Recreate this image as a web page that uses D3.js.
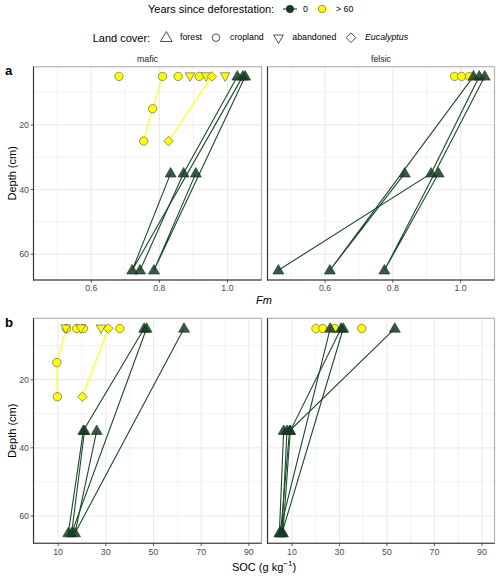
<!DOCTYPE html>
<html>
<head>
<meta charset="utf-8">
<script src="https://cdn.jsdelivr.net/npm/d3@7/dist/d3.min.js"></script>
<style>
body { margin: 0; background: #fff; }
text { font-family: "Liberation Sans", Arial, sans-serif; }
</style>
</head>
<body>
<script>
// ---- data ----
const lithologies = ['mafic', 'felsic']
const ageGroups = ['0', '> 60']
const landCovers = ['forest', 'cropland', 'abandoned', 'Eucalyptus']

const fmTicks = [0.6, 0.8, 1.0]
const fmMinor = [0.5, 0.7, 0.9]
const socTicks = [10, 30, 50, 70, 90]
const socMinor = [0, 20, 40, 60, 80]
const depthTicks = [20, 40, 60]
const depthMinor = [10, 30, 50]

// each profile: points joined in the order given
const fmMafic = [
	{cover: 'cropland', age: '> 60', depth: [5, 15, 25], val: [0.809, 0.780, 0.754]},
	{cover: 'cropland', age: '> 60', depth: [5], val: [0.681]},
	{cover: 'cropland', age: '> 60', depth: [5], val: [0.855]},
	{cover: 'cropland', age: '> 60', depth: [5], val: [0.917]},
	{cover: 'abandoned', age: '> 60', depth: [5], val: [0.890]},
	{cover: 'abandoned', age: '> 60', depth: [5], val: [0.937]},
	{cover: 'abandoned', age: '> 60', depth: [5], val: [0.993]},
	{cover: 'Eucalyptus', age: '> 60', depth: [5, 25], val: [0.954, 0.827]},
	{cover: 'forest', age: '0', depth: [5, 35, 65], val: [1.029, 0.871, 0.743]},
	{cover: 'forest', age: '0', depth: [5, 65, 35], val: [1.045, 0.720, 0.833]},
	{cover: 'forest', age: '0', depth: [5, 65, 35], val: [1.052, 0.784, 0.907]}
]
const fmFelsic = [
	{cover: 'cropland', age: '> 60', depth: [5], val: [0.982]},
	{cover: 'cropland', age: '> 60', depth: [5], val: [1.003]},
	{cover: 'cropland', age: '> 60', depth: [5], val: [1.026]},
	{cover: 'forest', age: '0', depth: [5, 65, 35], val: [1.038, 0.614, 0.835]},
	{cover: 'forest', age: '0', depth: [5, 35, 65], val: [1.055, 0.913, 0.462]},
	{cover: 'forest', age: '0', depth: [5, 65, 35], val: [1.071, 0.775, 0.935]}
]
const socMafic = [
	{cover: 'cropland', age: '> 60', depth: [5, 15, 25], val: [13.5, 9.5, 9.7]},
	{cover: 'cropland', age: '> 60', depth: [5], val: [17.8]},
	{cover: 'cropland', age: '> 60', depth: [5], val: [20.6]},
	{cover: 'cropland', age: '> 60', depth: [5], val: [35.9]},
	{cover: 'abandoned', age: '> 60', depth: [5], val: [13.2]},
	{cover: 'abandoned', age: '> 60', depth: [5], val: [19.5]},
	{cover: 'abandoned', age: '> 60', depth: [5], val: [28.0]},
	{cover: 'Eucalyptus', age: '> 60', depth: [5, 25], val: [31.1, 20.2]},
	{cover: 'forest', age: '0', depth: [5, 35, 65], val: [46.1, 20.6, 14.3]},
	{cover: 'forest', age: '0', depth: [5, 65, 35], val: [47.1, 15.7, 21.1]},
	{cover: 'forest', age: '0', depth: [5, 65, 35], val: [62.8, 17.1, 26.2]}
]
const socFelsic = [
	{cover: 'cropland', age: '> 60', depth: [5], val: [20.1]},
	{cover: 'cropland', age: '> 60', depth: [5], val: [23.0]},
	{cover: 'cropland', age: '> 60', depth: [5], val: [27.9]},
	{cover: 'cropland', age: '> 60', depth: [5], val: [39.4]},
	{cover: 'forest', age: '0', depth: [5, 65, 35], val: [26.1, 4.7, 6.5]},
	{cover: 'forest', age: '0', depth: [5, 35, 65], val: [30.7, 9.3, 6.2]},
	{cover: 'forest', age: '0', depth: [5, 65, 35], val: [31.6, 5.8, 7.9]},
	{cover: 'forest', age: '0', depth: [5, 35, 65], val: [53.3, 9.0, 5.2]}
]

// ---- layout ----
const W = 500, H = 578
const green = '#133f20', greenLine = '#1a4a28', yellow = '#ffff00'
const ageFill = d3.scaleOrdinal().domain(ageGroups).range([green, yellow])
const ageLine = d3.scaleOrdinal().domain(ageGroups).range([greenLine, yellow])

const svg = d3.select('body').append('svg')
	.attr('width', W)
	.attr('height', H)

svg.append('rect').attr('width', W).attr('height', H).attr('fill', '#fff')

// shapes like ggplot pch 24 / 21 / 25 / 23
function shapePath(cover, k = 1) {
	if (cover == 'forest') return 'M0,' + (-5.8*k) + 'L' + (5.5*k) + ',' + (3.7*k) + 'L' + (-5.5*k) + ',' + (3.7*k) + 'Z'
	if (cover == 'abandoned') return 'M' + (-4.8*k) + ',' + (-3.6*k) + 'L' + (4.8*k) + ',' + (-3.6*k) + 'L0,' + (5*k) + 'Z'
	if (cover == 'Eucalyptus') return 'M0,' + (-4.8*k) + 'L' + (4.8*k) + ',0L0,' + (4.8*k) + 'L' + (-4.8*k) + ',0Z'
	let r = 4.2*k
	return 'M' + r + ',0A' + r + ',' + r + ' 0 1,1 ' + (-r) + ',0A' + r + ',' + r + ' 0 1,1 ' + r + ',0Z'
}

const cols = [
	{lith: 'mafic', x0: 33.5, x1: 261.5},
	{lith: 'felsic', x0: 267.5, x1: 494.5}
]
const rows = [
	{tag: 'a', top: 66.7, bottom: 280, domain: [0.43, 1.10], ticks: fmTicks, minor: fmMinor,
		fmt: d3.format('.1f'), data: {mafic: fmMafic, felsic: fmFelsic}},
	{tag: 'b', top: 318.3, bottom: 543.3, domain: [-0.3, 95.3], ticks: socTicks, minor: socMinor,
		fmt: d3.format('d'), data: {mafic: socMafic, felsic: socFelsic}}
]

rows.forEach((row, ri) => {
	let y = d3.scaleLinear().domain([2, 68]).range([row.top, row.bottom])

	cols.forEach((col, ci) => {
		let x = d3.scaleLinear().domain(row.domain).range([col.x0, col.x1])
		let g = svg.append('g')

		// grid
		g.selectAll('.vmin').data(row.minor.filter(v => x(v) > col.x0 && x(v) < col.x1)).enter().append('line')
			.attr('x1', d => x(d)).attr('x2', d => x(d)).attr('y1', row.top).attr('y2', row.bottom)
			.style('stroke', '#ebebeb').style('stroke-width', 0.6)
		g.selectAll('.hmin').data(depthMinor).enter().append('line')
			.attr('x1', col.x0).attr('x2', col.x1).attr('y1', d => y(d)).attr('y2', d => y(d))
			.style('stroke', '#ebebeb').style('stroke-width', 0.6)
		g.selectAll('.vmaj').data(row.ticks).enter().append('line')
			.attr('x1', d => x(d)).attr('x2', d => x(d)).attr('y1', row.top).attr('y2', row.bottom)
			.style('stroke', '#ebebeb').style('stroke-width', 1.1)
		g.selectAll('.hmaj').data(depthTicks).enter().append('line')
			.attr('x1', col.x0).attr('x2', col.x1).attr('y1', d => y(d)).attr('y2', d => y(d))
			.style('stroke', '#ebebeb').style('stroke-width', 1.1)

		let profiles = row.data[col.lith]
		let line = d3.line().x(d => x(d[1])).y(d => y(d[0]))

		// lines
		g.selectAll('.prof').data(profiles.filter(p => p.depth.length > 1)).enter().append('path')
			.attr('d', p => line(p.depth.map((dd, i) => [dd, p.val[i]])))
			.attr('fill', 'none')
			.style('stroke', p => ageLine(p.age))
			.style('stroke-width', 1.1)

		// points: yellow first, green on top
		let pts = []
		ageGroups.slice().reverse().forEach(a => {
			profiles.filter(p => p.age == a).forEach(p => {
				p.depth.forEach((dd, i) => pts.push({cover: p.cover, age: p.age, depth: dd, val: p.val[i]}))
			})
		})
		g.selectAll('.pt').data(pts).enter().append('path')
			.attr('transform', d => 'translate(' + x(d.val) + ',' + y(d.depth) + ')')
			.attr('d', d => shapePath(d.cover))
			.attr('fill', d => ageFill(d.age))
			.attr('fill-opacity', d => d.age == '0' ? 0.85 : 1)
			.style('stroke', d => d.age == '0' ? '#1c2a1f' : '#4d4d4d')
			.style('stroke-width', 0.6)

		// panel border and axis lines
		g.append('rect')
			.attr('x', col.x0).attr('y', row.top)
			.attr('width', col.x1 - col.x0).attr('height', row.bottom - row.top)
			.attr('fill', 'none').style('stroke', '#b3b3b3').style('stroke-width', 1.2)
		g.append('line').attr('x1', col.x0).attr('x2', col.x0).attr('y1', row.top).attr('y2', row.bottom + 0.5)
			.style('stroke', '#333').style('stroke-width', 1.1)
		g.append('line').attr('x1', col.x0 - 0.5).attr('x2', col.x1).attr('y1', row.bottom).attr('y2', row.bottom)
			.style('stroke', '#333').style('stroke-width', 1.1)

		// x ticks
		g.selectAll('.xt').data(row.ticks).enter().append('line')
			.attr('x1', d => x(d)).attr('x2', d => x(d)).attr('y1', row.bottom).attr('y2', row.bottom + 2.8)
			.style('stroke', '#333').style('stroke-width', 0.8)
		g.selectAll('.xl').data(row.ticks).enter().append('text')
			.attr('x', d => x(d)).attr('y', row.bottom + 11.3)
			.attr('text-anchor', 'middle')
			.attr('font-size', 8.8).attr('fill', '#4d4d4d')
			.text(d => row.fmt(d))

		// y ticks only on first column
		if (ci == 0) {
			g.selectAll('.yt').data(depthTicks).enter().append('line')
				.attr('x1', col.x0 - 2.8).attr('x2', col.x0).attr('y1', d => y(d)).attr('y2', d => y(d))
				.style('stroke', '#333').style('stroke-width', 0.8)
			g.selectAll('.yl').data(depthTicks).enter().append('text')
				.attr('x', col.x0 - 4.5).attr('y', d => y(d) + 3.1)
				.attr('text-anchor', 'end')
				.attr('font-size', 8.8).attr('fill', '#4d4d4d')
				.text(d => d)
		}

		// strip labels only on top row
		if (ri == 0) {
			svg.append('text')
				.attr('x', (col.x0 + col.x1) / 2).attr('y', 62)
				.attr('text-anchor', 'middle')
				.attr('font-size', 8.8).attr('fill', '#1a1a1a')
				.text(col.lith)
		}
	})

	// y title
	svg.append('text')
		.attr('transform', 'translate(15.5,' + (row.top + row.bottom) / 2 + ') rotate(-90)')
		.attr('text-anchor', 'middle')
		.attr('font-size', 11).attr('fill', '#000')
		.text('Depth (cm)')

	// panel tag
	svg.append('text')
		.attr('x', 5).attr('y', row.top + (ri == 0 ? 8 : 9))
		.attr('font-size', 13.2).attr('font-weight', 'bold')
		.text(row.tag)
})

// x titles
const midX = (cols[0].x0 + cols[1].x1) / 2
svg.append('text')
	.attr('x', midX).attr('y', 304)
	.attr('text-anchor', 'middle')
	.attr('font-size', 11).attr('font-style', 'italic')
	.text('Fm')

let soc = svg.append('text')
	.attr('x', midX).attr('y', 570.5)
	.attr('text-anchor', 'middle')
	.attr('font-size', 11)
soc.append('tspan').text('SOC (g kg')
soc.append('tspan').attr('dy', -4.5).attr('font-size', 8).text('\u22121')
soc.append('tspan').attr('dy', 4.5).text(')')

// ---- legends ----
let leg1 = svg.append('g')
leg1.append('text').attr('x', 148).attr('y', 13.3).attr('font-size', 11).text('Years since deforestation:')
const ageKeyX = [290, 322]
const ageLabelX = [303, 336]
ageGroups.forEach((a, i) => {
	leg1.append('line')
		.attr('x1', ageKeyX[i] - 7).attr('x2', ageKeyX[i] + 7).attr('y1', 9).attr('y2', 9)
		.style('stroke', ageLine(a)).style('stroke-width', 1.1)
	leg1.append('path')
		.attr('transform', 'translate(' + ageKeyX[i] + ',9)')
		.attr('d', shapePath('cropland', 0.88))
		.attr('fill', ageFill(a))
		.style('stroke', a == '0' ? '#0d2613' : '#4d4d4d').style('stroke-width', 0.6)
	leg1.append('text').attr('x', ageLabelX[i]).attr('y', 12).attr('font-size', 8.8).text(a)
})

let leg2 = svg.append('g')
leg2.append('text').attr('x', 92.7).attr('y', 42).attr('font-size', 11).text('Land cover:')
const coverKeyX = [166.3, 216, 278.5, 351]
const coverKeyY = [37.6, 37.7, 38.6, 37.7]
const coverLabelX = [180, 230, 292.3, 365]
landCovers.forEach((c, i) => {
	leg2.append('path')
		.attr('transform', 'translate(' + coverKeyX[i] + ',' + coverKeyY[i] + ')')
		.attr('d', shapePath(c, c == 'forest' ? 1.05 : (c == 'cropland' ? 0.9 : 1.0)))
		.attr('fill', 'none')
		.style('stroke', '#222').style('stroke-width', 0.8)
	leg2.append('text').attr('x', coverLabelX[i]).attr('y', 40.3).attr('font-size', 8.8)
		.attr('font-style', c == 'Eucalyptus' ? 'italic' : 'normal')
		.text(c)
})
</script>
</body>
</html>
